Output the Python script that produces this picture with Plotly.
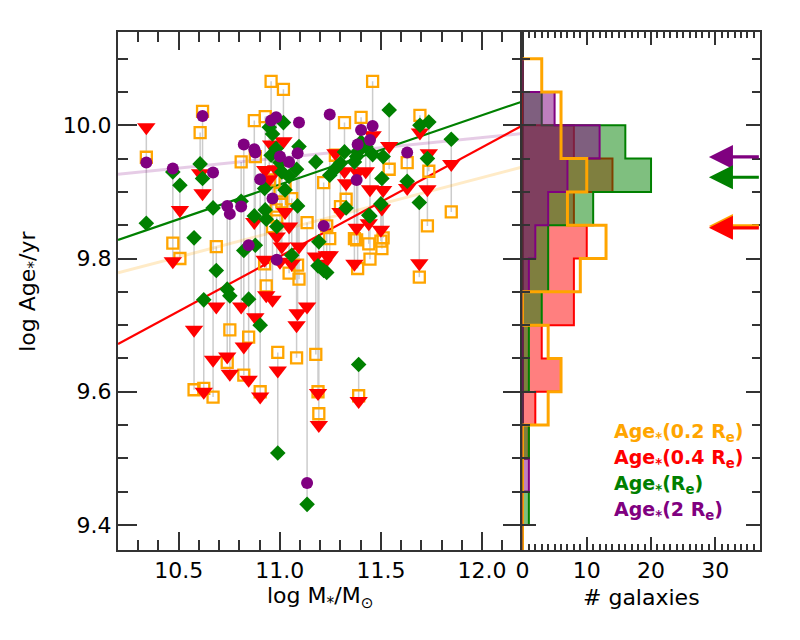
import plotly.graph_objects as go

# ---------------- data ----------------
gal_logmass = [10.340, 10.471, 10.506, 10.576, 10.606, 10.618, 10.624, 10.670, 10.686, 10.740,
               10.753, 10.809, 10.822, 10.846, 10.874, 10.879, 10.903, 10.928, 10.933, 10.925,
               10.948, 10.957, 10.964, 10.982, 10.985, 10.990, 11.001, 11.010, 11.018, 11.026,
               11.046, 11.059, 11.095, 11.088, 11.083, 11.135, 11.178, 11.189, 11.193, 11.217,
               11.232, 11.247, 11.275, 11.300, 11.320, 11.328, 11.369, 11.385, 11.380, 11.390,
               11.402, 11.425, 11.459, 11.446, 11.440, 11.511, 11.505, 11.500, 11.541, 11.630,
               11.693, 11.690, 11.737, 11.730, 11.848]
age_02re = [9.952, 9.823, 9.800, 9.603, 9.989, 10.021, 9.605, 9.592, 9.818, 9.644,
            9.693, 9.945, 9.625, 9.682, 10.007, 9.953, 9.600, 10.013, 9.759, 9.792,
            9.918, 10.066, 9.848, 9.873, 9.862, 9.659, 9.898, 9.885, 10.054, 9.913,
            9.778, 9.890, 9.769, 9.790, 9.651, 9.854, 9.656, 9.600, 9.567, 9.914,
            9.849, 9.830, 9.955, 9.878, 10.004, 9.889, 9.830, 9.785, 9.828, 9.594,
            10.012, 9.981, 10.066, 9.799, 9.822, 9.831, 9.815, 9.826, 9.934, 9.944,
            10.015, 9.772, 9.931, 9.849, 9.870]
age_04re = [9.997, 9.796, 9.873, 9.693, 9.928, 9.898, 9.600, 9.648, 9.728, 9.653,
            9.627, 9.728, 9.668, 9.618, 9.855, 9.712, 9.593, 9.933, 9.745, 9.798,
            9.919, 9.971, 9.738, 9.934, 9.833, 9.632, 9.795, 9.818, 9.976, 9.870,
            9.848, 9.792, 9.818, 9.718, 9.700, 9.728, 9.803, 9.598, 9.550, 9.792,
            9.805, 9.805, 9.958, 9.870, 9.931, 9.913, 9.792, 9.929, 9.846, 9.586,
            9.965, 9.931, 9.985, 9.904, 9.853, 9.903, 9.875, 9.843, 9.969, 9.906,
            9.989, 9.793, 9.958, 9.904, 9.942]
age_1re = [9.853, 9.930, 9.910, 9.831, 9.942, 9.920, 9.738, 9.876, 9.782, 9.754,
           9.744, 9.886, 9.812, 9.739, 9.864, 9.820, 9.700, 9.873, 9.859, 9.905,
           9.997, 9.955, 9.987, 9.965, 9.848, 9.508, 9.944, 9.930, 10.004, 9.903,
           9.923, 9.805, 9.968, 9.879, 9.934, 9.431, 9.945, 9.789, 9.825, 9.782,
           9.779, 9.925, 9.935, 9.943, 9.960, 9.876, 9.945, 9.960, 9.953, 9.641,
           9.975, 9.968, 9.956, 9.864, 9.865, 9.953, 9.920, 9.882, 10.023, 9.916,
           10.000, 9.884, 10.005, 9.950, 9.979]
age_2re = [9.944, 9.935, None, None, None, 10.014, None, 9.929, None, 9.879,
           9.867, 9.878, 9.971, 9.820, 9.964, 9.959, 9.919, None, None, None,
           None, 10.007, 9.890, 10.012, 9.798, None, 9.953, None, None, None,
           9.945, None, 10.004, 9.958, None, 9.463, None, None, None, 9.849,
           None, 10.016, None, None, None, None, None, 9.971, 9.918, None,
           9.993, None, 9.999, 9.978, None, None, None, None, None, 9.959,
           None, None, None, None, None]

# linear fits: value at log M = 11.0 and slope
fit_names = ["0.2", "0.4", "1", "2"]
fit_at11 = [9.842, 9.803, 9.911, 9.951]
fit_slope = [0.0795, 0.164, 0.104, 0.0305]

# histogram (bins of 0.05 dex in log age)
hist_bin_lo = [9.35, 9.40, 9.45, 9.50, 9.55, 9.60, 9.65, 9.70, 9.75, 9.80, 9.85, 9.90, 9.95, 10.00, 10.05]
hist_02re = [0, 0, 0, 0, 4, 6, 4, 0, 9, 13, 7, 10, 6, 6, 3]
hist_04re = [0, 0, 0, 1, 2, 6, 3, 8, 8, 10, 8, 14, 8, 0, 0]
hist_1re = [0, 1, 0, 1, 0, 1, 1, 3, 4, 4, 11, 20, 16, 3, 0]
hist_2re = [0, 0, 1, 0, 0, 0, 0, 0, 1, 2, 4, 7, 12, 5, 0]
hist_binw = 0.05

# medians (arrows)
median_02re = 9.849
median_04re = 9.846
median_1re = 9.922
median_2re = 9.9525

legend_labels = ["Age<sub>*</sub>(0.2 R<sub>e</sub>)", "Age<sub>*</sub>(0.4 R<sub>e</sub>)",
                 "Age<sub>*</sub>(R<sub>e</sub>)", "Age<sub>*</sub>(2 R<sub>e</sub>)"]

# ---------------- styling ----------------
ORANGE = "#FFA500"
RED = "#FF0000"
GREEN = "#008000"
PURPLE = "#800080"
FONT = "DejaVu Sans"
AXC = "#333333"

fig = go.Figure()

# connector lines
cx, cy = [], []
for i, m in enumerate(gal_logmass):
    vals = [v for v in (age_02re[i], age_04re[i], age_1re[i], age_2re[i]) if v is not None]
    cx += [m, m, None]
    cy += [min(vals), max(vals), None]
fig.add_trace(go.Scatter(x=cx, y=cy, mode="lines", line=dict(color="#cccccc", width=1.5),
                         hoverinfo="skip", showlegend=False, xaxis="x", yaxis="y"))

# fit lines
xr = [10.2, 12.2]
fit_styles = [dict(color="rgba(255,165,0,0.22)", width=3),
              dict(color=RED, width=2.2),
              dict(color=GREEN, width=2.2),
              dict(color="rgba(128,0,128,0.2)", width=3)]
for k in [0, 3, 1, 2]:
    ys = [fit_at11[k] + fit_slope[k] * (x - 11.0) for x in xr]
    fig.add_trace(go.Scatter(x=xr, y=ys, mode="lines", line=fit_styles[k],
                             hoverinfo="skip", showlegend=False, xaxis="x", yaxis="y"))

# markers
fig.add_trace(go.Scatter(x=gal_logmass, y=age_02re, mode="markers",
                         marker=dict(symbol="square-open", size=11, color=ORANGE, line=dict(width=2.3, color=ORANGE)),
                         showlegend=False, xaxis="x", yaxis="y"))
fig.add_trace(go.Scatter(x=gal_logmass, y=age_04re, mode="markers",
                         marker=dict(symbol="triangle-down", size=16, color=RED, line=dict(width=0)),
                         showlegend=False, xaxis="x", yaxis="y"))
fig.add_trace(go.Scatter(x=gal_logmass, y=age_1re, mode="markers",
                         marker=dict(symbol="diamond", size=12, color=GREEN, line=dict(width=0)),
                         showlegend=False, xaxis="x", yaxis="y"))
fig.add_trace(go.Scatter(x=gal_logmass, y=age_2re, mode="markers",
                         marker=dict(symbol="circle", size=12, color=PURPLE, line=dict(width=0)),
                         showlegend=False, xaxis="x", yaxis="y"))


def step_path(counts):
    xs, ys = [0], [hist_bin_lo[0]]
    for lo, c in zip(hist_bin_lo, counts):
        xs += [c, c]
        ys += [lo, lo + hist_binw]
    xs.append(0)
    ys.append(hist_bin_lo[-1] + hist_binw)
    return xs, ys


for counts, lc, fc in [(hist_04re, RED, "rgba(255,0,0,0.5)"),
                       (hist_1re, GREEN, "rgba(0,128,0,0.5)"),
                       (hist_2re, PURPLE, "rgba(128,0,128,0.5)")]:
    hx, hy = step_path(counts)
    fig.add_trace(go.Scatter(x=hx, y=hy, mode="lines", fill="toself", fillcolor=fc,
                             line=dict(color=lc, width=2), hoverinfo="skip", showlegend=False,
                             xaxis="x2", yaxis="y2"))
hx, hy = step_path(hist_02re)
fig.add_trace(go.Scatter(x=hx, y=hy, mode="lines", line=dict(color=ORANGE, width=3),
                         hoverinfo="skip", showlegend=False, xaxis="x2", yaxis="y2"))

# median arrows
annotations = []
for med, col in [(median_2re, PURPLE), (median_1re, GREEN), (median_02re, ORANGE), (median_04re, RED)]:
    annotations.append(dict(x=29, y=med, ax=37, ay=med, xref="x2", yref="y2", axref="x2", ayref="y2",
                            text="", showarrow=True, arrowhead=2, arrowsize=1.5, arrowwidth=3.2,
                            arrowcolor=col))

# legend texts
for j, (lab, col) in enumerate(zip(legend_labels, [ORANGE, RED, GREEN, PURPLE])):
    annotations.append(dict(x=610 / 800, y=1 - (432 + j * 26.3) / 640, xref="paper", yref="paper",
                            xanchor="left", yanchor="middle", showarrow=False,
                            text="<b>" + lab + "</b>", font=dict(family=FONT, size=19, color=col)))

# axis titles
annotations.append(dict(x=316 / 800, y=1 - 597 / 640, xref="paper", yref="paper", showarrow=False,
                        text="log M<sub>*</sub>/M<sub>⊙</sub>", font=dict(family=FONT, size=22, color="black"),
                        xanchor="center", yanchor="middle"))
annotations.append(dict(x=640 / 800, y=1 - 597 / 640, xref="paper", yref="paper", showarrow=False,
                        text="# galaxies", font=dict(family=FONT, size=22, color="black"),
                        xanchor="center", yanchor="middle"))
annotations.append(dict(x=22 / 800, y=1 - 291 / 640, xref="paper", yref="paper", showarrow=False,
                        text="log Age<sub>*</sub>/yr", textangle=-90, font=dict(family=FONT, size=22, color="black"),
                        xanchor="center", yanchor="middle"))

ax_common = dict(showline=True, linecolor=AXC, linewidth=2, mirror="ticks", ticks="inside",
                 tickcolor=AXC, tickwidth=1.5, showgrid=False, zeroline=False,
                 tickfont=dict(family=FONT, size=22, color="black"))

fig.update_layout(
    width=800, height=640, margin=dict(l=0, r=0, t=0, b=0),
    paper_bgcolor="white", plot_bgcolor="white", showlegend=False,
    xaxis=dict(domain=[112 / 800, 520 / 800], range=[10.2, 12.2], dtick=0.5, tick0=0,
               tickformat=".1f", ticklen=18,
               minor=dict(ticks="inside", dtick=0.1, tick0=0, ticklen=10, tickcolor=AXC, tickwidth=1.5),
               anchor="y", **ax_common),
    yaxis=dict(domain=[1 - 550 / 640, 1 - 32 / 640], range=[9.3625, 10.14], dtick=0.2, tick0=0,
               tickformat=".1f", ticklen=19,
               minor=dict(ticks="inside", dtick=0.05, tick0=0, ticklen=10, tickcolor=AXC, tickwidth=1.5),
               anchor="x", **ax_common),
    xaxis2=dict(domain=[520 / 800, 760 / 800], range=[0, 37], dtick=10, tick0=0, ticklen=13,
                minor=dict(ticks="inside", dtick=1, ticklen=6, tickcolor=AXC, tickwidth=1.5),
                anchor="y2", **ax_common),
    yaxis2=dict(domain=[1 - 550 / 640, 1 - 32 / 640], matches="y", dtick=0.2, tick0=0, ticklen=14,
                showticklabels=False,
                minor=dict(ticks="inside", dtick=0.05, tick0=0, ticklen=8, tickcolor=AXC, tickwidth=1.5),
                anchor="x2", **ax_common),
    annotations=annotations,
)

fig.write_html("out.html")
